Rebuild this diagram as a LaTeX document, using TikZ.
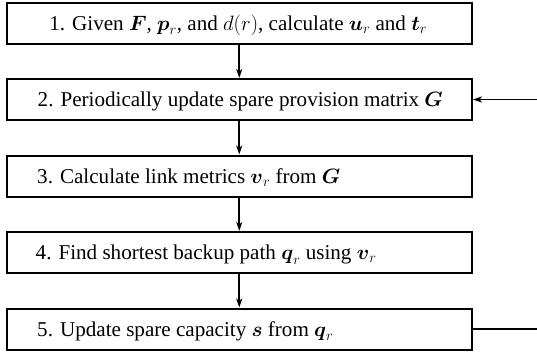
\documentclass[tikz,border=0pt]{standalone}
\usepackage{amsmath}
\usepackage{fontspec}
\setmainfont{Liberation Serif}
\usetikzlibrary{arrows.meta}
\begin{document}
\begin{tikzpicture}[x=1pt,y=1pt,
  stepbox/.style={draw, line width=2pt, minimum width=465.5pt, minimum height=41pt, inner sep=0pt},
  steptext/.style={inner sep=0pt, font=\fontsize{21.1}{25}\selectfont},
  flow/.style={line width=1.7pt, -{Stealth[length=9pt,width=6pt,inset=2.5pt]}},
  plain/.style={line width=1.7pt}]
\useasboundingbox (0,0) rectangle (537,-356);
\node[stepbox] (b1) at (239.25,-23) {};
\node[stepbox] (b2) at (239.25,-99.5) {};
\node[stepbox] (b3) at (239.25,-176) {};
\node[stepbox] (b4) at (239.25,-252.5) {};
\node[stepbox] (b5) at (239.25,-329) {};
\node[steptext, anchor=base] (t1) at ([xshift=-1pt,yshift=-7pt]b1.center) {1. Given $\boldsymbol{F}$, $\boldsymbol{p}_r$, and $d(r)$, calculate $\boldsymbol{u}_r$ and $\boldsymbol{t}_r$};
\node[steptext, anchor=base west] (t2) at ([xshift=32pt,yshift=-7pt]b2.west) {2. Periodically update spare provision matrix $\boldsymbol{G}$};
\node[steptext, anchor=base west] (t3) at ([xshift=31.5pt,yshift=-7pt]b3.west) {3. Calculate link metrics $\boldsymbol{v}_r$ from $\boldsymbol{G}$};
\node[steptext, anchor=base west] (t4) at ([xshift=30pt,yshift=-7pt]b4.west) {4. Find shortest backup path $\boldsymbol{q}_r$ using $\boldsymbol{v}_r$};
\node[steptext, anchor=base west] (t5) at ([xshift=31.5pt,yshift=-7pt]b5.west) {5. Update spare capacity $\boldsymbol{s}$ from $\boldsymbol{q}_r$};
\draw[flow] (b1) -- (b2);
\draw[flow] (b2) -- (b3);
\draw[flow] (b3) -- (b4);
\draw[flow] (b4) -- (b5);
\coordinate (r5) at (537,-329);
\coordinate (r2) at (537,-99.5);
\draw[plain] (b5.east) -- (r5);
\draw[flow] (r2) -- (b2.east);
\end{tikzpicture}
\end{document}
